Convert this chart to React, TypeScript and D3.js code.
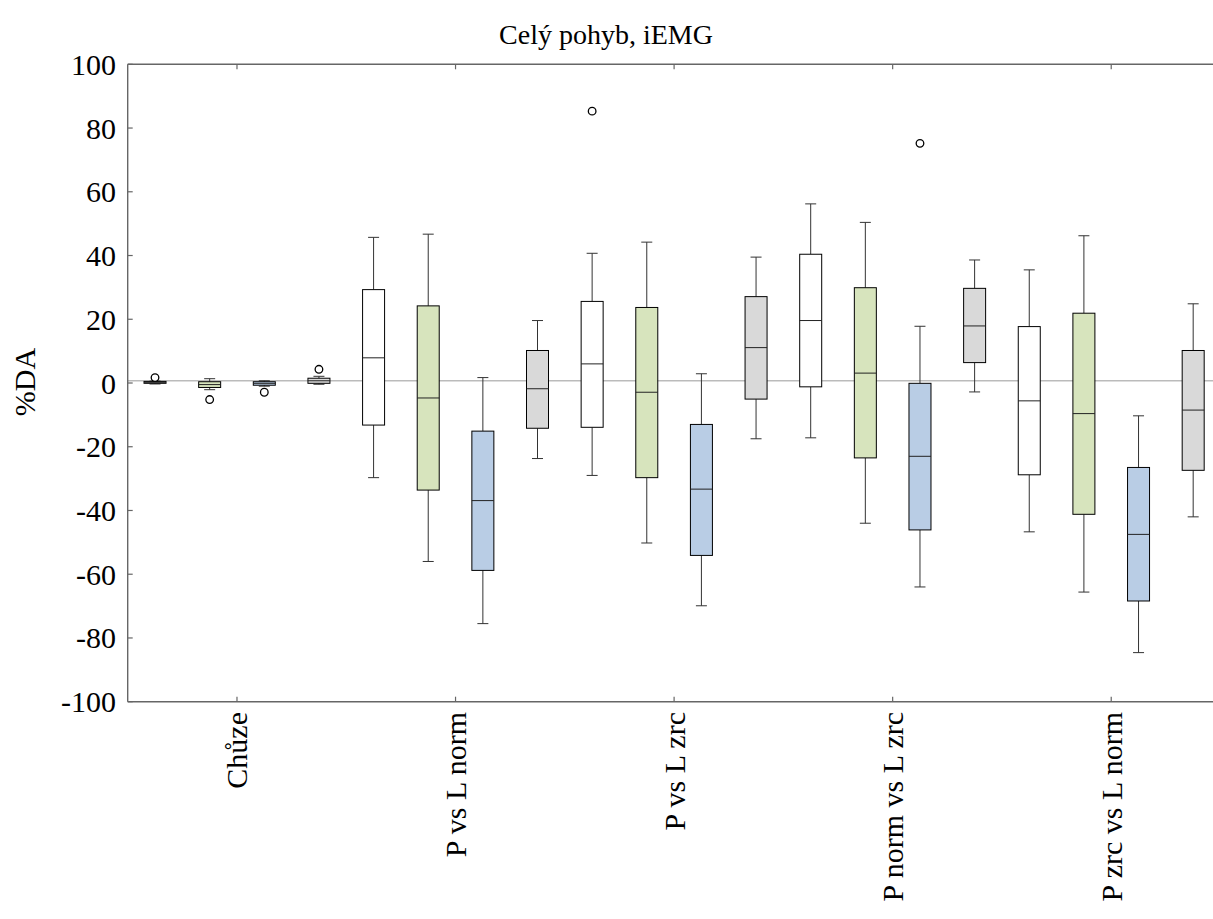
import React from 'react';
import * as d3 from 'd3';

// categories on the x axis
const categories = ['Chůze', 'P vs L norm', 'P vs L zrc', 'P norm vs L zrc', 'P zrc vs L norm'];
const seriesNames = ['white', 'green', 'blue', 'gray'];

// [low whisker, Q1, median, Q3, high whisker] per category
const whiteStats = [
  [-0.3, -0.1, 0.2, 0.5, 0.6],
  [-29.7, -13.2, 7.9, 29.3, 45.7],
  [-29.0, -13.9, 6.0, 25.6, 40.7],
  [-17.2, -1.2, 19.6, 40.4, 56.2],
  [-46.7, -28.8, -5.6, 17.7, 35.5],
];
const greenStats = [
  [-2.1, -1.4, -0.5, 0.4, 1.35],
  [-56.0, -33.6, -4.7, 24.2, 46.7],
  [-50.2, -29.7, -2.9, 23.7, 44.2],
  [-44.0, -23.5, 3.1, 29.9, 50.4],
  [-65.6, -41.2, -9.6, 21.9, 46.2],
];
const blueStats = [
  [-1.0, -0.7, -0.1, 0.4, 0.7],
  [-75.5, -58.8, -36.9, -15.1, 1.7],
  [-69.9, -54.1, -33.3, -13.0, 2.9],
  [-64.0, -46.1, -23.0, -0.1, 17.8],
  [-84.6, -68.4, -47.5, -26.5, -10.3],
];
const grayStats = [
  [-0.4, -0.1, 0.7, 1.5, 2.1],
  [-23.7, -14.2, -1.8, 10.2, 19.6],
  [-17.5, -5.05, 11.1, 27.1, 39.5],
  [-2.8, 6.4, 17.9, 29.7, 38.6],
  [-42.0, -27.4, -8.5, 10.2, 24.85],
];

// outliers per category
const whiteOutliers = [[1.7], [], [85.3], [], []];
const greenOutliers = [[-5.2], [], [], [], []];
const blueOutliers = [[-2.9], [], [], [75.2], []];
const grayOutliers = [[4.3], [], [], [], []];

const yTicks = [-100, -80, -60, -40, -20, 0, 20, 40, 60, 80, 100];
const refValue = 0.7;

const statsBySeries = [whiteStats, greenStats, blueStats, grayStats];
const outliersBySeries = [whiteOutliers, greenOutliers, blueOutliers, grayOutliers];
const fills = ['#ffffff', '#d7e4bd', '#b9cde5', '#d9d9d9'];

export default function App() {
  const width = 1213;
  const height = 919;
  const left = 127.7;
  const right = 1220.5;
  const top = 64.3;
  const bottom = 701.7;
  const font = '"Liberation Serif", "Times New Roman", serif';

  const x = d3.scaleBand().domain(categories).range([left, right]).padding(0);
  const inner = d3.scaleBand().domain(seriesNames).range([0, x.bandwidth()]).padding(0);
  const y = d3.scaleLinear().domain([-100, 100]).range([bottom, top]);

  const boxW = 22;
  const capW = 11;
  const axisColor = '#666';

  return (
    <svg width={width} height={height} style={{ position: 'absolute', left: 0, top: 0, background: '#fff' }}>
      <text x={606} y={44} textAnchor="middle" fontFamily={font} fontSize={28}>Celý pohyb, iEMG</text>

      {/* reference line */}
      <line x1={left} x2={width} y1={y(refValue)} y2={y(refValue)} stroke="#bbb" strokeWidth={1.3} />

      {categories.map((c, ci) =>
        seriesNames.map((s, si) => {
          const [lo, q1, med, q3, hi] = statsBySeries[si][ci];
          const cx = (x(c) as number) + (inner(s) as number) + inner.bandwidth() / 2;
          return (
            <g key={c + s}>
              <line x1={cx} x2={cx} y1={y(hi)} y2={y(q3)} stroke="#333" />
              <line x1={cx} x2={cx} y1={y(q1)} y2={y(lo)} stroke="#333" />
              <line x1={cx - capW / 2} x2={cx + capW / 2} y1={y(hi)} y2={y(hi)} stroke="#333" />
              <line x1={cx - capW / 2} x2={cx + capW / 2} y1={y(lo)} y2={y(lo)} stroke="#333" />
              <rect x={cx - boxW / 2} y={y(q3)} width={boxW} height={Math.max(y(q1) - y(q3), 0.5)}
                fill={fills[si]} stroke="#000" strokeWidth={1} />
              <line x1={cx - boxW / 2} x2={cx + boxW / 2} y1={y(med)} y2={y(med)} stroke="#222" />
              {outliersBySeries[si][ci].map((o, oi) => (
                <circle key={oi} cx={cx} cy={y(o)} r={3.8} fill="#fff" stroke="#000" strokeWidth={1.3} />
              ))}
            </g>
          );
        })
      )}

      {/* frame */}
      <line x1={left} x2={width} y1={top} y2={top} stroke={axisColor} strokeWidth={1.4} />
      <line x1={left} x2={width} y1={bottom} y2={bottom} stroke={axisColor} strokeWidth={1.4} />
      <line x1={left} x2={left} y1={top} y2={bottom} stroke={axisColor} strokeWidth={1.4} />

      {yTicks.map(t => (
        <g key={t}>
          <line x1={left} x2={left + 5} y1={y(t)} y2={y(t)} stroke={axisColor} strokeWidth={1.2} />
          <text x={116} y={y(t)} dy="0.35em" textAnchor="end" fontFamily={font} fontSize={30}>{t}</text>
        </g>
      ))}

      {categories.map(c => {
        const cx = (x(c) as number) + x.bandwidth() / 2;
        return (
          <g key={c}>
            <line x1={cx} x2={cx} y1={top} y2={top + 5} stroke={axisColor} strokeWidth={1.2} />
            <line x1={cx} x2={cx} y1={bottom} y2={bottom - 5} stroke={axisColor} strokeWidth={1.2} />
            <text transform={`translate(${cx},${712}) rotate(-90)`} dy="0.35em" textAnchor="end"
              fontFamily={font} fontSize={30}>{c}</text>
          </g>
        );
      })}

      <text transform={`translate(35,382) rotate(-90)`} textAnchor="middle" fontFamily={font} fontSize={30}>%DA</text>
    </svg>
  );
}
